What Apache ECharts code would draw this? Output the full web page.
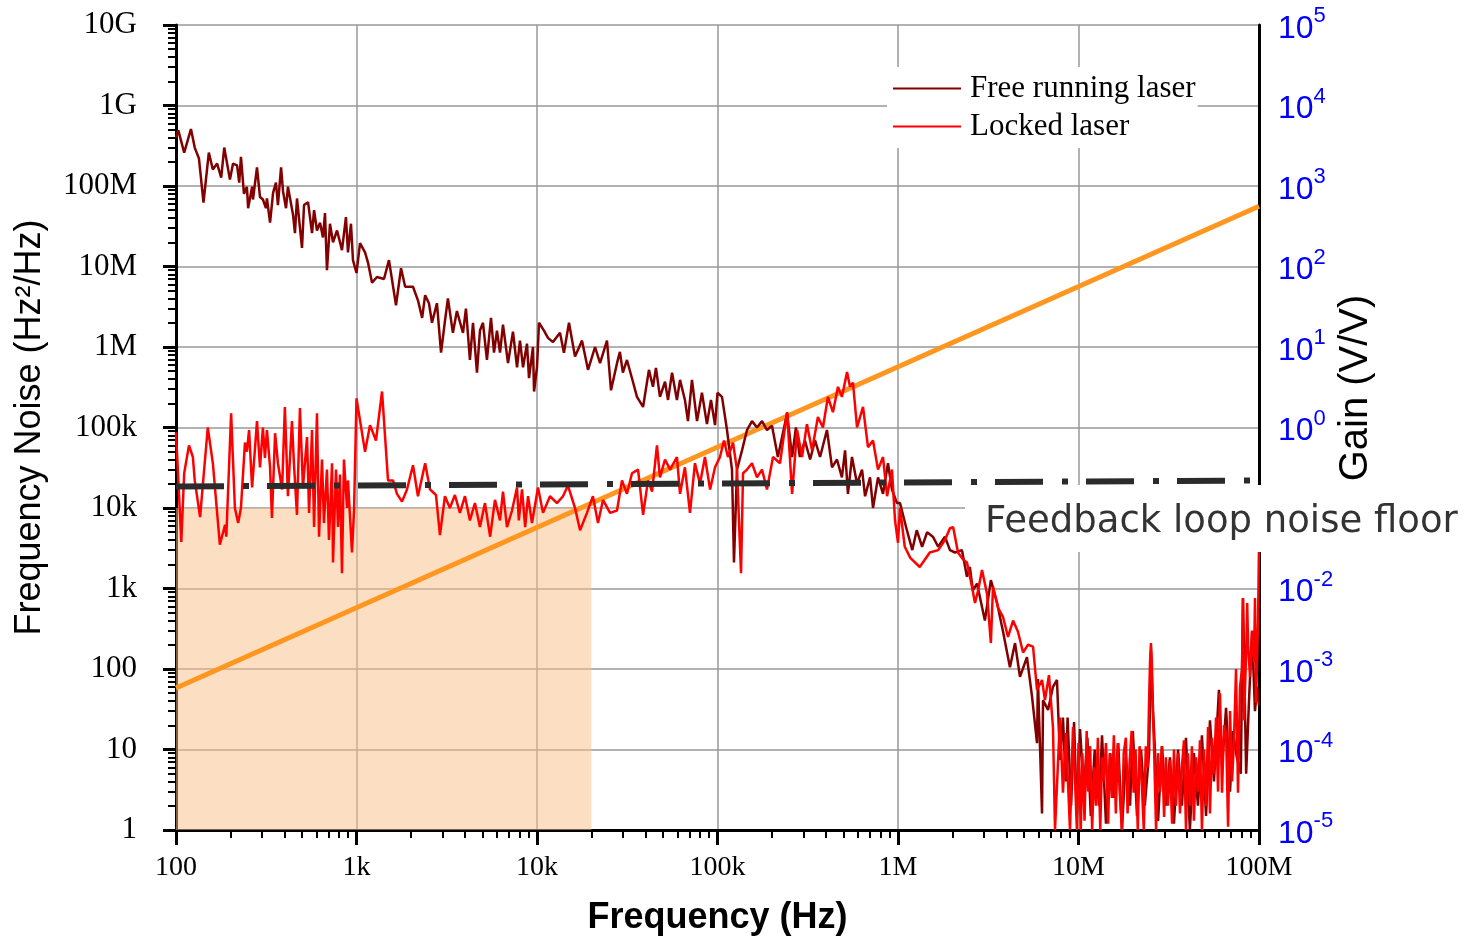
<!DOCTYPE html>
<html>
<head>
<meta charset="utf-8">
<script src="https://cdn.jsdelivr.net/npm/echarts@6/dist/echarts.min.js"></script>
<style>
  html, body { margin: 0; background: #fff; }
  #chart { width: 1466px; height: 936px; }
</style>
</head>
<body>
<div id="chart"></div>
<script>
// tick labels
const freqTicks = ['100', '1k', '10k', '100k', '1M', '10M', '100M'];
const noiseTicks = ['1', '10', '100', '1k', '10k', '100k', '1M', '10M', '100M', '1G', '10G'];

// [frequency Hz, noise Hz^2/Hz]
const freeRunning = [
  [100,4e8],[103,4.9e8],[111,2.6e8],[121,5.1e8],[127,3e8],[134,2.2e8],[142,6.2e7],[152,2.6e8],[160,1.6e8],[169,1.9e8],
  [178,1.27e8],[185,3e8],[199,1.2e8],[207,1.9e8],[218,1.8e8],[224,1.1e8],[229,2.3e8],[238,8e7],[247,9.8e7],[251,5.3e7],
  [264,9.8e7],[267,6.8e7],[281,1.7e8],[292,7.3e7],[303,6.8e7],[315,5.3e7],[319,7e7],[332,3.5e7],[345,8.2e7],[358,1.1e8],
  [367,5.8e7],[382,1.7e8],[392,8.5e7],[407,5.3e7],[417,9.8e7],[445,4.4e7],[456,2.6e7],[468,7e7],[499,1.7e7],[512,5.8e7],
  [539,6.3e7],[567,2.6e7],[582,5e7],[604,2.8e7],[628,3.5e7],[652,2.3e7],[669,4.6e7],[686,9e6],[713,3.4e7],[741,2e7],
  [780,2.8e7],[831,1.6e7],[874,4.1e7],[897,1.5e7],[932,3.4e7],[956,1.2e7],[1000,8.3e6],[1046,1.95e7],[1115,1.5e7],[1160,1.1e7],
  [1219,6.3e6],[1299,7.4e6],[1420,7e6],[1513,1.2e7],[1655,3.3e6],[1765,9.5e6],[1860,5.6e6],[2056,5.6e6],[2190,3.8e6],[2310,2.3e6],
  [2400,4.4e6],[2520,3.5e6],[2620,2e6],[2790,3.5e6],[2940,8.5e5],[3090,2.1e6],[3210,4e6],[3420,1.5e6],[3600,2.8e6],[3890,1.5e6],
  [4040,3e6],[4250,6.9e5],[4420,2e6],[4650,4.8e5],[4830,1.6e6],[5020,2e6],[5280,6.9e5],[5560,2.3e6],[5780,8.5e5],[6000,1.6e6],
  [6240,8.5e5],[6480,1.9e6],[6910,6.3e5],[7360,1.55e6],[7750,5.6e5],[8050,1.2e6],[8370,5.6e5],[8800,1.1e6],[9030,4.1e5],[9500,1e6],
  [9630,2.8e5],[10000,5.6e5],[10260,2e6],[10930,1.6e6],[11500,1.3e6],[12260,1.15e6],[13410,1.5e6],[14100,8.5e5],[15040,2e6],[16240,7.6e5],
  [17760,1.2e6],[19170,5.2e5],[20970,1e6],[22350,6.3e5],[24420,1.2e6],[25700,2.9e5],[27750,6.3e5],[28800,8.7e5],[29900,4.8e5],[31500,6.9e5],
  [34000,3.7e5],[35800,2.4e5],[38700,1.8e5],[41700,5.2e5],[43900,3.2e5],[45600,5.5e5],[48000,2.4e5],[51200,3.7e5],[53200,2.2e5],[56000,4.8e5],
  [59600,2.2e5],[62000,3.9e5],[66000,2.2e5],[68600,1.2e5],[72200,3.9e5],[77000,1.2e5],[82000,2.7e5],[87400,1.1e5],[92000,2.2e5],[96900,1.07e5],
  [100000,2.7e5],[105900,2.4e5],[112900,9.3e4],[120300,3e4],[123400,2.1e3],[128200,3e4],[136700,5.2e4],[145700,9.3e4],[155300,1.2e5],[165500,1e5],
  [176500,1.2e5],[188000,9.3e4],[200400,1.05e5],[216000,4.3e4],[228000,7.6e4],[243000,1.5e5],[259000,4.3e4],[272000,1e5],[286000,4.3e4],[305000,6.9e4],
  [326000,4e4],[347000,6.9e4],[370000,4.3e4],[404000,9.3e4],[431000,3.2e4],[459000,4e4],[489000,2.4e4],[509000,5.2e4],[528000,1.5e4],[556000,4.3e4],
  [593000,2e4],[632000,3e4],[657000,1.4e4],[700000,2.4e4],[727000,1e4],[775000,2.4e4],[826000,1.5e4],[880000,3.6e4],[926000,1.7e4],[987000,1.15e4],
  [1026000,1.15e4],[1120000,5.3e3],[1200000,3e3],[1270000,5.3e3],[1360000,3.3e3],[1450000,5e3],[1560000,4.4e3],[1670000,3.3e3],[1820000,4.4e3],[1940000,3e3],
  [2070000,2.8e3],[2260000,3e3],[2410000,1.4e3],[2500000,1.85e3],[2600000,9.5e2],[2740000,1.15e3],[3030000,4e2],[3270000,1.27e3],[3540000,6.6e2],[3820000,2.9e2],
  [4170000,1.05e2],[4450000,2.1e2],[4740000,80],[5180000,1.4e2],[5530000,45],[5890000,12],[5960000,75],[6280000,1.6],[6360000,41],[6780000,31],
  [7220000,60],[7600000,73],[7900000,7.4],[8200000,25],[8500000,4],[8700000,25],[9100000,2],[9450000,22],[9800000,1.5],[1.02e7,18],
  [1.07e7,3],[1.12e7,14],[1.17e7,1.5],[1.23e7,10],[1.3e7,2],[1.35e7,15],[1.42e7,1.2],[1.5e7,9],[1.57e7,2.5],[1.66e7,12],
  [1.74e7,1],[1.83e7,8],[1.93e7,2],[2e7,17],[2.11e7,1.5],[2.22e7,10],[2.33e7,2],[2.46e7,9],[2.52e7,170],[2.59e7,30],
  [2.65e7,10],[2.76e7,1.3],[2.9e7,11],[3.05e7,2],[3.21e7,8],[3.38e7,1.2],[3.56e7,10],[3.74e7,2],[3.94e7,14],[4.14e7,1],
  [4.36e7,9],[4.59e7,2],[4.83e7,15],[5.09e7,1.5],[5.35e7,23],[5.63e7,4],[6e7,55],[6.24e7,6],[6.57e7,33],[6.91e7,3],
  [7.17e7,17],[7.54e7,8],[7.93e7,5],[8.15e7,760],[8.49e7,5],[8.8e7,40],[9.15e7,290],[9.5e7,30],[9.77e7,60],[1e8,35]
];

const locked = [
  [100,8.7e4],[107,3.8e3],[111,2.7e4],[118,6e4],[124,4.3e4],[127,2.2e4],[136,7.7e3],[141,2e4],[150,1e5],[160,3.6e4],
  [175,3.5e3],[187,6.2e3],[190,4.4e3],[202,1.5e5],[212,1e4],[221,6.5e3],[229,1e4],[241,6.5e4],[247,5e4],[254,9.3e4],
  [264,1.8e4],[281,1.2e5],[292,3.2e4],[303,1e5],[311,4.2e4],[319,9.3e4],[332,3.2e4],[340,7.5e3],[354,8.5e4],[367,3.6e4],
  [387,1.7e4],[401,1.8e5],[417,1.4e4],[439,1.2e5],[450,3.6e4],[468,8.2e3],[486,1.75e5],[505,1.8e4],[532,7.6e4],[546,8.7e3],
  [567,9.3e4],[582,5.8e3],[604,1.5e5],[620,4.4e3],[644,4e4],[660,6.5e3],[686,3e4],[704,4e3],[732,3.6e4],[741,2.1e3],
  [770,3e4],[790,5.8e3],[810,2.6e4],[831,1.55e3],[852,4e4],[886,1e4],[897,2.2e4],[944,2.8e3],[969,9.3e3],[1000,2.3e5],
  [1115,5e4],[1188,1.07e5],[1282,6.9e4],[1385,2.8e5],[1495,2.2e4],[1593,2.2e4],[1676,1.5e4],[1787,1.2e4],[1904,1.7e4],[2056,3.4e4],
  [2190,1.4e4],[2400,3.6e4],[2554,1.7e4],[2756,1.45e4],[2900,4.6e3],[3090,1.4e4],[3290,1e4],[3510,1.45e4],[3740,8.7e3],[3990,1.4e4],
  [4250,7e3],[4530,1.15e4],[4830,5.8e3],[5150,1.15e4],[5500,4.4e3],[5850,1.26e4],[6240,7e3],[6480,1.6e4],[6820,5.8e3],[7270,9.3e3],
  [7750,1.8e4],[7930,7e3],[8260,1.7e4],[8600,5.8e3],[8920,1.4e4],[9380,6.5e3],[10130,1.8e4],[10800,8.7e3],[11800,1.4e4],[12900,1.15e4],
  [13930,1.4e4],[14840,1.9e4],[16240,1e4],[17320,5.3e3],[18920,8.7e3],[20400,1.4e4],[21780,6.5e3],[23200,1.26e4],[25400,8.7e3],[27750,9.3e3],
  [29570,2.2e4],[31500,1.5e4],[33600,2.7e4],[36300,3e4],[38700,8.2e3],[41200,2.2e4],[43400,1.6e4],[46200,6e4],[48000,2.4e4],[51200,4e4],
  [54600,3e4],[59600,4.3e4],[62000,1.5e4],[66000,3.2e4],[70400,8.7e3],[75000,3.6e4],[80000,2e4],[85200,4.3e4],[91000,1.7e4],[96900,3.2e4],
  [103200,4.3e4],[108600,6.9e4],[114300,4.3e4],[121900,6.5e4],[128200,3e4],[135000,1.55e3],[138500,2.7e4],[145700,3e4],[155300,3.6e4],[165500,2.4e4],
  [176500,3e4],[188000,1.7e4],[203000,4.3e4],[222000,3.6e4],[243000,1.55e5],[259000,1.5e4],[276000,9.3e4],[294000,4.3e4],[313000,1.1e5],[334000,5.2e4],
  [360000,1.35e5],[384000,1e5],[409000,2.4e5],[436000,1.55e5],[465000,3.2e5],[489000,2.4e5],[522000,4.9e5],[542000,3.2e5],[563000,3.6e5],[593000,1e5],
  [640000,1.8e5],[682000,5.7e4],[727000,6.9e4],[775000,3e4],[826000,4.3e4],[870000,1.4e4],[926000,3e4],[963000,7e3],[1000000,3.7e3],[1026000,1e4],
  [1090000,3.3e3],[1170000,2.4e3],[1320000,1.85e3],[1500000,2.8e3],[1670000,3e3],[1820000,4e3],[1940000,5.6e3],[2020000,5.8e3],[2150000,2.8e3],[2290000,2.3e3],
  [2410000,2.1e3],[2570000,1.05e3],[2670000,6.6e2],[2780000,9.5e2],[2920000,1.7e3],[3110000,8.7e2],[3270000,2.1e2],[3360000,1.05e3],[3580000,5.8e2],[3820000,4.4e2],
  [4070000,2.5e2],[4340000,4e2],[4620000,2.9e2],[4930000,1.6e2],[5250000,2e2],[5600000,1.9e2],[5890000,55],[6280000,73],[6520000,41],[6860000,84],
  [7220000,19],[7410000,1],[7900000,25],[8200000,2.9],[8520000,16],[8970000,1],[9320000,19],[9800000,1],
  [1e7,12],[1.03e7,1],[1.05e7,9],[1.08e7,1.3],[1.11e7,17],[1.13e7,3],[1.16e7,11],[1.19e7,1],[1.22e7,6],[1.25e7,2],
  [1.28e7,14],[1.32e7,1],[1.35e7,8],[1.38e7,4],[1.42e7,12],[1.46e7,1.2],[1.49e7,9],[1.53e7,2.5],[1.57e7,15],[1.61e7,1.6],
  [1.65e7,12],[1.69e7,3],[1.74e7,1],[1.78e7,9],[1.83e7,14],[1.87e7,1.6],[1.92e7,7],[1.97e7,17],[2.02e7,2.9],[2.07e7,10],
  [2.13e7,1],[2.18e7,11],[2.24e7,4],[2.3e7,1],[2.36e7,11],[2.42e7,6],[2.46e7,40],[2.49e7,120],[2.52e7,210],[2.55e7,120],
  [2.58e7,30],[2.62e7,11],[2.69e7,1],[2.76e7,9],[2.83e7,3],[2.9e7,11],[2.98e7,1.45],[3.05e7,8],[3.13e7,2],[3.21e7,7.4],
  [3.3e7,1.2],[3.38e7,10],[3.47e7,2],[3.56e7,9],[3.65e7,1.6],[3.74e7,6],[3.84e7,13],[3.94e7,1],[4.04e7,9],[4.15e7,2],
  [4.25e7,11],[4.36e7,1.3],[4.48e7,8],[4.59e7,3],[4.71e7,13],[4.83e7,1],[4.96e7,10],[5.09e7,2],[5.22e7,19],[5.35e7,1.6],
  [5.49e7,14],[5.63e7,5],[5.78e7,25],[5.93e7,3],[6.08e7,50],[6.24e7,2.9],[6.4e7,20],[6.57e7,16],[6.74e7,1.1],[6.91e7,30],
  [7.09e7,4],[7.27e7,13],[7.46e7,100],[7.65e7,2.9],[7.85e7,60],[8.05e7,100],[8.15e7,760],[8.26e7,23],[8.48e7,150],[8.6e7,660],
  [8.7e7,200],[8.92e7,80],[9.15e7,300],[9.39e7,120],[9.5e7,760],[9.63e7,38],[9.88e7,400],[1e8,3.5e3]
];

// loop gain (V/V), right axis
const gainFreq = [100, 1e8];
const gainValue = [5.8e-4, 560];

// feedback loop noise floor
const floorFreq = [100, 1e8];
const floorValue = [1.85e4, 2.2e4];

// shaded band
const bandFreq = [100, 2e4];
const bandNoise = [1, 1e4];

const serif = 'Liberation Serif';
const sans = 'Liberation Sans';

const chart = echarts.init(document.getElementById('chart'));

const pairs = (xs, ys) => xs.map((x, i) => [x, ys[i]]);

chart.setOption({
  animation: false,
  backgroundColor: '#fff',
  grid: { left: 176, right: 207, top: 25, bottom: 106, containLabel: false, outerBoundsMode: 'none' },
  legend: {
    data: ['Free running laser', 'Locked laser'],
    orient: 'vertical',
    left: 887,
    top: 67,
    padding: [6, 2, 6, 6],
    backgroundColor: '#fff',
    icon: 'rect',
    itemWidth: 68,
    itemHeight: 2,
    itemGap: 7,
    textStyle: { fontFamily: serif, fontSize: 31, color: '#000', padding: [0, 0, 0, 4] }
  },
  xAxis: {
    type: 'log',
    logBase: 10,
    min: 100,
    max: 1e8,
    splitNumber: 6,
    name: 'Frequency (Hz)',
    nameLocation: 'middle',
    nameGap: 70,
    nameTextStyle: { fontFamily: sans, fontSize: 36, fontWeight: 'bold', color: '#000' },
    axisLine: { show: true, onZero: false, lineStyle: { color: '#000', width: 3 } },
    axisTick: { show: true, inside: false, length: 15, lineStyle: { color: '#000', width: 3 } },
    minorTick: { show: true, splitNumber: 9, length: 8, lineStyle: { color: '#000', width: 2 } },
    splitLine: { show: true, lineStyle: { color: '#999', width: 1.5 } },
    axisLabel: {
      margin: 24,
      fontFamily: serif,
      fontSize: 28,
      color: '#000',
      formatter: v => freqTicks[Math.round(Math.log10(v)) - 2]
    }
  },
  yAxis: [
    {
      type: 'log',
      logBase: 10,
      min: 1,
      max: 1e10,
      interval: 1,
      position: 'left',
      name: 'Frequency Noise (Hz²/Hz)',
      nameLocation: 'middle',
      nameGap: 128,
      nameRotate: 90,
      nameTextStyle: { fontFamily: sans, fontSize: 36, color: '#000' },
      axisLine: { show: true, onZero: false, lineStyle: { color: '#000', width: 3 } },
      axisTick: { show: true, inside: false, length: 13, lineStyle: { color: '#000', width: 3 } },
      minorTick: { show: true, splitNumber: 9, length: 8, lineStyle: { color: '#000', width: 2 } },
      splitLine: { show: true, lineStyle: { color: '#999', width: 1.5 } },
      axisLabel: {
        margin: 39,
        fontFamily: serif,
        fontSize: 31,
        color: '#000',
        formatter: v => noiseTicks[Math.round(Math.log10(v))]
      }
    },
    {
      type: 'log',
      logBase: 10,
      min: 1e-5,
      max: 1e5,
      interval: 1,
      position: 'right',
      axisLine: { show: true, onZero: false, lineStyle: { color: '#000', width: 3 } },
      axisTick: { show: false },
      splitLine: { show: false },
      axisLabel: {
        margin: 19,
        formatter: v => '{b|10}{s|' + Math.round(Math.log10(v)) + '}',
        rich: {
          b: { fontFamily: sans, fontSize: 32, color: '#0000ff', lineHeight: 40, verticalAlign: 'bottom' },
          s: { fontFamily: sans, fontSize: 22, color: '#0000ff', lineHeight: 22, verticalAlign: 'top' }
        }
      }
    }
  ],
  series: [
    {
      name: 'band',
      type: 'line',
      data: [],
      z: 1,
      markArea: {
        silent: true,
        itemStyle: { color: 'rgba(250, 192, 133, 0.5)' },
        data: [[{ coord: [bandFreq[0], bandNoise[0]] }, { coord: [bandFreq[1], bandNoise[1]] }]]
      }
    },
    {
      name: 'Gain',
      type: 'line',
      yAxisIndex: 1,
      data: pairs(gainFreq, gainValue),
      symbol: 'none',
      z: 2,
      lineStyle: { color: '#ff961f', width: 5 }
    },
    {
      name: 'Free running laser',
      type: 'line',
      data: freeRunning,
      symbol: 'none',
      z: 3,
      color: '#820000',
      lineStyle: { color: '#820000', width: 2.5 }
    },
    {
      name: 'Locked laser',
      type: 'line',
      data: locked,
      symbol: 'none',
      z: 4,
      color: '#ff0000',
      lineStyle: { color: '#ff0000', width: 2.5 }
    },
    {
      name: 'Feedback loop noise floor',
      type: 'line',
      data: pairs(floorFreq, floorValue),
      symbol: 'none',
      z: 5,
      lineStyle: { color: '#2b2b2b', width: 6, type: [48, 19, 6, 18], cap: 'butt' }
    }
  ],
  graphic: [
    {
      type: 'rect',
      z: 100,
      shape: { x: 965, y: 485, width: 501, height: 67 },
      style: { fill: '#fff' }
    },
    {
      type: 'text',
      z: 101,
      x: 985,
      y: 522,
      style: {
        text: 'Feedback loop noise floor',
        font: '37px "DejaVu Sans"',
        fill: '#333',
        textVerticalAlign: 'middle'
      }
    },
    {
      type: 'text',
      z: 101,
      x: 1356,
      y: 388,
      rotation: Math.PI / 2,
      style: {
        text: 'Gain (V/V)',
        font: '40px "Liberation Sans"',
        fill: '#000',
        textAlign: 'center',
        textVerticalAlign: 'middle'
      }
    }
  ]
});
</script>
</body>
</html>
